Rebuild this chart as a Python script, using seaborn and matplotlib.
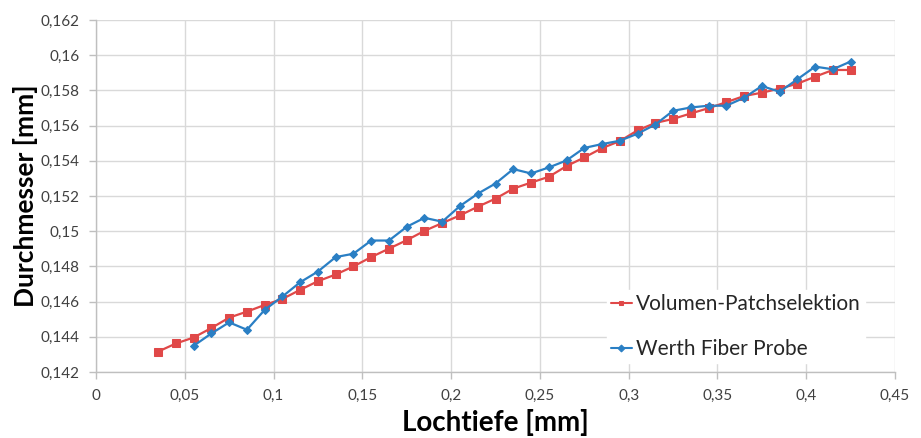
import numpy as np
import pandas as pd
import matplotlib
matplotlib.use("Agg")
import matplotlib.pyplot as plt
import seaborn as sns
from matplotlib.ticker import FuncFormatter, MultipleLocator

# ---- data ----
x_red = [0.035, 0.045, 0.055, 0.065, 0.075, 0.085, 0.095, 0.105, 0.115, 0.125,
         0.135, 0.145, 0.155, 0.165, 0.175, 0.185, 0.195, 0.205, 0.215, 0.225,
         0.235, 0.245, 0.255, 0.265, 0.275, 0.285, 0.295, 0.305, 0.315, 0.325,
         0.335, 0.345, 0.355, 0.365, 0.375, 0.385, 0.395, 0.405, 0.415, 0.425]
y_red = [0.14316, 0.14362, 0.14396, 0.14450, 0.14509, 0.14543, 0.14581, 0.14615, 0.14667, 0.14716,
         0.14754, 0.14800, 0.14853, 0.14901, 0.14949, 0.15002, 0.15046, 0.15090, 0.15139, 0.15185,
         0.15242, 0.15276, 0.15309, 0.15370, 0.15419, 0.15472, 0.15512, 0.15573, 0.15615, 0.15638,
         0.15669, 0.15699, 0.15733, 0.15768, 0.15787, 0.15810, 0.15838, 0.15878, 0.15916, 0.15916]

x_blue = [0.055, 0.065, 0.075, 0.085, 0.095, 0.105, 0.115, 0.125, 0.135, 0.145,
          0.155, 0.165, 0.175, 0.185, 0.195, 0.205, 0.215, 0.225, 0.235, 0.245,
          0.255, 0.265, 0.275, 0.285, 0.295, 0.305, 0.315, 0.325, 0.335, 0.345,
          0.355, 0.365, 0.375, 0.385, 0.395, 0.405, 0.415, 0.425]
y_blue = [0.14349, 0.14419, 0.14482, 0.14440, 0.14553, 0.14629, 0.14710, 0.14771, 0.14853, 0.14872,
          0.14947, 0.14947, 0.15025, 0.15076, 0.15054, 0.15143, 0.15213, 0.15271, 0.15353, 0.15328,
          0.15362, 0.15402, 0.15473, 0.15495, 0.15514, 0.15554, 0.15606, 0.15684, 0.15703, 0.15713,
          0.15713, 0.15758, 0.15825, 0.15792, 0.15863, 0.15935, 0.15920, 0.15964]

label_red = "Volumen-Patchselektion"
label_blue = "Werth Fiber Probe"
xlabel = "Lochtiefe [mm]"
ylabel = "Durchmesser [mm]"

df_red = pd.DataFrame({"x": x_red, "y": y_red})
df_blue = pd.DataFrame({"x": x_blue, "y": y_blue})

sns.set_theme(style="whitegrid")
plt.rcParams['font.family'] = ['Lato', 'DejaVu Sans']

fig = plt.figure(figsize=(9.21, 4.38), dpi=100)
ax = fig.add_axes([96/921, 1-372/438, (895-96)/921, (372-20)/438])

red = "#e04848"
blue = "#2a7fc4"

sns.lineplot(data=df_red, x="x", y="y", ax=ax, color=red, marker="s", markersize=5.5,
             markeredgecolor=red, linewidth=1.6, label=label_red)
sns.lineplot(data=df_blue, x="x", y="y", ax=ax, color=blue, marker="D", markersize=3.8,
             markeredgecolor=blue, linewidth=1.6, label=label_blue)

ax.set_xlim(0, 0.45)
ax.set_ylim(0.142, 0.162)
ax.xaxis.set_major_locator(MultipleLocator(0.05))
ax.yaxis.set_major_locator(MultipleLocator(0.002))

def fmt(v, pos):
    s = f"{round(v, 4):g}"
    return s.replace(".", ",")

ax.xaxis.set_major_formatter(FuncFormatter(fmt))
ax.yaxis.set_major_formatter(FuncFormatter(fmt))

ax.grid(True, color="#d9d9d9", linewidth=1.0)
for s in ["top", "right"]:
    ax.spines[s].set_visible(False)
for s in ["left", "bottom"]:
    ax.spines[s].set_color("#bfbfbf")
    ax.spines[s].set_linewidth(1.0)
ax.tick_params(axis="both", which="major", length=5, width=1, color="#bfbfbf",
               labelsize=11, labelcolor="#404040", direction="out",
               left=True, bottom=True, pad=7)

ax.set_xlabel(xlabel, fontsize=20, fontweight="bold", color="#000000")
ax.set_ylabel(ylabel, fontsize=19, fontweight="bold", color="#000000")
ax.yaxis.set_label_coords(-0.072, 0.5)
ax.xaxis.set_label_coords(0.5, -0.105)

leg = ax.legend(loc="lower right", bbox_to_anchor=(0.975, -0.005), fontsize=15,
                frameon=True, facecolor="white", edgecolor="white", framealpha=1,
                handlelength=1.0, handletextpad=0.2, labelspacing=1.2,
                borderpad=0.2, fancybox=False)
for h in leg.get_lines():
    h.set_markersize(3.5)
    h.set_linewidth(1.5)

fig.savefig("out.png", dpi=100)
